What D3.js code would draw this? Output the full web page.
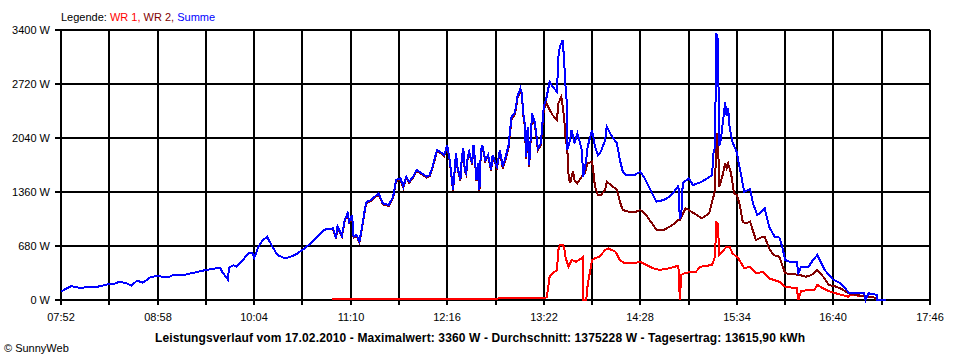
<!DOCTYPE html>
<html><head><meta charset="utf-8">
<script src="https://cdn.jsdelivr.net/npm/d3@7"></script>
<style>
html,body{margin:0;padding:0;background:#fff;}
svg{display:block;font-family:"Liberation Sans",Arial,sans-serif;}
</style></head><body>
<svg id="c" width="960" height="360"></svg>
<script>
// ---- data ----
const xTickLabels = ["07:52","08:58","10:04","11:10","12:16","13:22","14:28","15:34","16:40","17:46"];
const yTickValues = [0, 680, 1360, 2040, 2720, 3400];
const legendItems = ["WR 1", "WR 2", "Summe"];

const sumT = ["07:52","07:55","07:59","08:04","08:12","08:17","08:24","08:29","08:32","08:37","08:40","08:44","08:48","08:53","08:57","09:05","09:09","09:15","09:25","09:31","09:41","09:42","09:46","09:47","09:50","09:52","09:56","10:00","10:03","10:04","10:07","10:10","10:13","10:14","10:17","10:20","10:24","10:27","10:32","10:37","10:44","10:51","10:53","10:58","11:00","11:01","11:04","11:06","11:08","11:09","11:11","11:12","11:14","11:16","11:18","11:20","11:21","11:24","11:29","11:32","11:36","11:39","11:41","11:44","11:46","11:48","11:50","11:53","11:55","11:57","12:02","12:04","12:06","12:09","12:11","12:14","12:16","12:18","12:20","12:22","12:23","12:25","12:26","12:27","12:28","12:29","12:30","12:31","12:33","12:34","12:35","12:36","12:37","12:38","12:39","12:40","12:42","12:44","12:46","12:47","12:50","12:52","12:54","12:56","12:58","12:59","13:00","13:02","13:03","13:04","13:06","13:07","13:08","13:09","13:10","13:11","13:12","13:14","13:16","13:18","13:20","13:22","13:24","13:26","13:28","13:31","13:32","13:33","13:35","13:36","13:37","13:38","13:38","13:40","13:41","13:43","13:45","13:48","13:49","13:51","13:52","13:55","13:57","13:59","14:01","14:04","14:05","14:08","14:12","14:14","14:16","14:18","14:24","14:28","14:31","14:36","14:39","14:44","14:48","14:53","14:54","14:55","14:56","14:57","15:01","15:04","15:09","15:14","15:17","15:18","15:19","15:20","15:21","15:22","15:23","15:26","15:27","15:28","15:29","15:31","15:34","15:35","15:37","15:39","15:43","15:45","15:48","15:51","15:53","15:56","16:00","16:03","16:05","16:07","16:10","16:15","16:16","16:18","16:23","16:26","16:29","16:34","16:37","16:40","16:43","16:46","16:50","16:51","17:01","17:02","17:04","17:10","17:10","17:16"];
const sumW = [105,139,176,155,160,167,198,208,230,210,180,243,218,286,302,286,315,311,353,378,407,356,261,412,437,419,495,588,588,529,671,756,797,756,655,567,533,533,567,630,734,869,890,903,777,932,806,1016,1092,986,1070,797,819,734,944,1175,1238,1259,1344,1218,1196,1297,1511,1533,1427,1553,1490,1562,1637,1616,1553,1574,1679,1889,1868,1826,1952,1721,1385,1851,1679,1511,1805,1910,1637,1596,1805,1868,1721,1952,1763,1511,1721,1385,1889,1952,1763,1826,1637,1826,1679,1889,1679,1805,1952,2141,2308,2351,2434,2560,2666,2603,2351,2225,1805,2182,1700,2351,2225,1910,1973,2434,2560,2749,2686,2623,3064,3190,3274,2981,2645,2434,1889,2015,2141,1973,2099,1889,1553,1763,1931,2141,1931,1826,1868,2015,2182,2078,1973,1763,1616,1574,1574,1616,1533,1344,1238,1259,1301,1407,1448,1020,1070,1470,1533,1448,1480,1533,1574,1847,1931,3360,3274,1939,2015,2487,2317,2414,2182,1990,1857,1744,1562,1364,1398,1218,1070,1112,1155,923,793,787,671,504,482,482,344,419,419,504,567,378,315,252,230,189,105,84,84,0,84,63,0,0];

const wr2T = ["07:52","07:55","07:59","08:04","08:12","08:17","08:24","08:29","08:32","08:37","08:40","08:44","08:48","08:53","08:57","09:05","09:09","09:15","09:25","09:31","09:41","09:42","09:46","09:47","09:50","09:52","09:56","10:00","10:03","10:04","10:07","10:10","10:13","10:14","10:17","10:20","10:24","10:27","10:32","10:37","10:44","10:51","10:53","10:58","11:00","11:01","11:04","11:06","11:08","11:09","11:11","11:12","11:14","11:16","11:18","11:20","11:21","11:24","11:29","11:32","11:36","11:39","11:41","11:44","11:46","11:48","11:50","11:53","11:55","11:57","12:02","12:04","12:06","12:09","12:11","12:14","12:16","12:18","12:20","12:22","12:23","12:25","12:26","12:27","12:28","12:29","12:30","12:31","12:33","12:34","12:35","12:36","12:37","12:38","12:39","12:40","12:42","12:44","12:46","12:47","12:50","12:52","12:54","12:56","12:58","12:59","13:00","13:02","13:03","13:04","13:06","13:07","13:08","13:09","13:10","13:11","13:12","13:14","13:16","13:18","13:20","13:22","13:24","13:26","13:28","13:31","13:32","13:33","13:34","13:35","13:36","13:37","13:38","13:39","13:40","13:41","13:42","13:43","13:45","13:48","13:50","13:52","13:55","13:56","13:57","13:59","14:01","14:04","14:05","14:08","14:12","14:14","14:16","14:20","14:25","14:28","14:31","14:36","14:39","14:44","14:50","14:54","14:55","14:59","15:03","15:10","15:15","15:18","15:19","15:20","15:21","15:22","15:24","15:26","15:27","15:28","15:30","15:32","15:34","15:36","15:38","15:40","15:43","15:47","15:51","15:53","15:56","15:59","16:03","16:07","16:12","16:17","16:21","16:25","16:29","16:33","16:37","16:42","16:46","16:50","17:02","17:07","17:10"];
const wr2W = [105,139,176,155,160,167,198,208,230,210,180,243,218,286,302,286,315,311,353,378,407,356,261,412,437,419,495,588,588,529,671,756,797,756,655,567,533,533,567,630,734,869,890,893,767,922,796,1006,1080,976,1058,785,807,722,932,1162,1225,1247,1330,1205,1183,1284,1498,1520,1414,1540,1477,1550,1625,1604,1540,1562,1665,1875,1855,1812,1938,1708,1372,1836,1664,1496,1790,1895,1622,1581,1790,1853,1706,1937,1748,1496,1706,1370,1874,1937,1748,1811,1622,1811,1664,1864,1654,1780,1927,2116,2283,2328,2411,2537,2643,2580,2328,2202,1782,2159,1677,2328,2202,1887,1950,2393,2477,2393,2330,2267,2477,2519,2560,2434,2267,2015,1931,1553,1470,1553,1616,1511,1470,1553,1596,1721,1742,1596,1427,1322,1322,1385,1490,1448,1385,1238,1133,1112,1112,1133,1092,966,882,882,944,1007,1007,1155,1112,1029,1092,1301,1385,2099,2056,1427,1553,1721,1659,1721,1596,1344,1322,1196,986,966,986,756,790,797,651,567,545,336,327,315,293,315,378,293,189,167,135,84,42,42,0];

const wr1T = ["10:57","11:10","11:20","11:40","12:00","12:30","12:50","12:52","13:10","13:22","13:24","13:26","13:28","13:31","13:32","13:33","13:35","13:36","13:37","13:39","13:41","13:44","13:48","13:49","13:49","13:51","13:52","13:53","13:55","13:57","14:00","14:04","14:06","14:11","14:14","14:17","14:23","14:28","14:32","14:37","14:41","14:48","14:54","14:55","14:56","14:58","15:03","15:06","15:09","15:17","15:19","15:20","15:21","15:22","15:23","15:27","15:29","15:31","15:35","15:39","15:43","15:47","15:52","15:56","16:03","16:07","16:15","16:16","16:18","16:27","16:29","16:35","16:40","16:46","16:50","16:51","17:01","17:02"];
const wr1W = [8,8,10,8,10,12,15,25,22,25,34,293,336,378,630,693,693,651,525,419,504,482,525,545,0,0,189,293,504,525,545,630,651,608,504,462,462,482,441,399,378,399,432,0,315,336,356,356,419,441,545,973,957,567,588,671,671,588,525,399,419,336,356,273,230,167,147,0,117,126,189,126,92,63,42,63,50,0];

const footerText = "Leistungsverlauf vom 17.02.2010 - Maximalwert: 3360 W - Durchschnitt: 1375228 W - Tagesertrag: 13615,90 kWh";
const colors = {wr1: "#ff0000", wr2: "#800000", sum: "#0000ff"};

// ---- drawing ----
const toMin = s => { const [h, m] = s.split(":").map(Number); return h * 60 + m; };
const svg = d3.select("#c");
const L = 61, R = 930, T = 30, B = 300;
const t0 = toMin(xTickLabels[0]), t1 = toMin(xTickLabels[xTickLabels.length - 1]);
const x = d3.scaleLinear().domain([t0, t1]).range([L, R]);
const y = d3.scaleLinear().domain([0, 3400]).range([B, T]);
const xg = x.copy().interpolate(d3.interpolateRound);
const yg = y.copy().interpolate(d3.interpolateRound);
const gridTimes = d3.range(t0, t1 + 1, 33);
const labelMins = xTickLabels.map(toMin);

// vertical grid
svg.append("g").attr("transform", `translate(0,${B})`)
  .call(d3.axisBottom(xg).tickValues(gridTimes).tickSize(-(B - T)).tickFormat("").offset(0))
  .call(g => g.select(".domain").remove())
  .call(g => g.selectAll("line").attr("stroke", "#000").attr("stroke-width", 2));
// horizontal grid
svg.append("g").attr("transform", `translate(${L},0)`)
  .call(d3.axisLeft(yg).tickValues(yTickValues).tickSize(-(R - L)).tickFormat("").offset(0))
  .call(g => g.select(".domain").remove())
  .call(g => g.selectAll("line").attr("stroke", "#000").attr("stroke-width", 2));

// y axis ticks & labels
svg.append("g").attr("transform", `translate(${L},0)`)
  .call(d3.axisLeft(yg).tickValues(yTickValues).tickSize(6).tickPadding(5).tickFormat(d => d + " W").offset(0))
  .call(g => g.select(".domain").remove())
  .call(g => g.selectAll("line").attr("stroke", "#000").attr("stroke-width", 2))
  .call(g => g.selectAll("text").attr("font-size", 11).attr("font-family", "Liberation Sans, Arial, sans-serif").attr("fill", "#000"));

// x axis ticks & labels
svg.append("g").attr("transform", `translate(0,${B})`)
  .call(d3.axisBottom(xg).tickValues(gridTimes).tickSize(5).tickPadding(8).offset(0)
    .tickFormat(d => { const i = labelMins.indexOf(d); return i >= 0 ? xTickLabels[i] : ""; }))
  .call(g => g.select(".domain").remove())
  .call(g => g.selectAll("line").attr("stroke", "#000").attr("stroke-width", 2))
  .call(g => g.selectAll("text").attr("font-size", 11).attr("font-family", "Liberation Sans, Arial, sans-serif").attr("fill", "#000"));

// lines
const mk = (ts, ws) => ts.map((t, i) => ({t: toMin(t), w: ws[i]}));
const line = d3.line().x(d => x(d.t)).y(d => y(d.w));
const series = [
  {data: mk(wr1T, wr1W), c: colors.wr1},
  {data: mk(wr2T, wr2W), c: colors.wr2},
  {data: mk(sumT, sumW), c: colors.sum}
];
svg.append("g").selectAll("path").data(series).join("path")
  .attr("d", d => line(d.data)).attr("fill", "none")
  .attr("stroke", d => d.c).attr("stroke-width", 2)
  .attr("stroke-linejoin", "miter").attr("shape-rendering", "crispEdges");

// legend
const leg = svg.append("text").attr("x", L).attr("y", 21).attr("font-size", 11);
leg.append("tspan").attr("fill", "#000").text("Legende: ");
const legColors = [colors.wr1, colors.wr2, colors.sum];
legendItems.forEach((s, i) => {
  leg.append("tspan").attr("fill", legColors[i]).text(s + (i < legendItems.length - 1 ? ", " : ""));
});

// footer
svg.append("text").attr("x", 155).attr("y", 342)
  .attr("font-size", 12).attr("font-weight", "bold").attr("fill", "#000")
  .attr("textLength", 650).attr("lengthAdjust", "spacing").text(footerText);
svg.append("text").attr("x", 4).attr("y", 352).attr("font-size", 11).attr("fill", "#000").text("\u00a9 SunnyWeb");
</script>
</body></html>
